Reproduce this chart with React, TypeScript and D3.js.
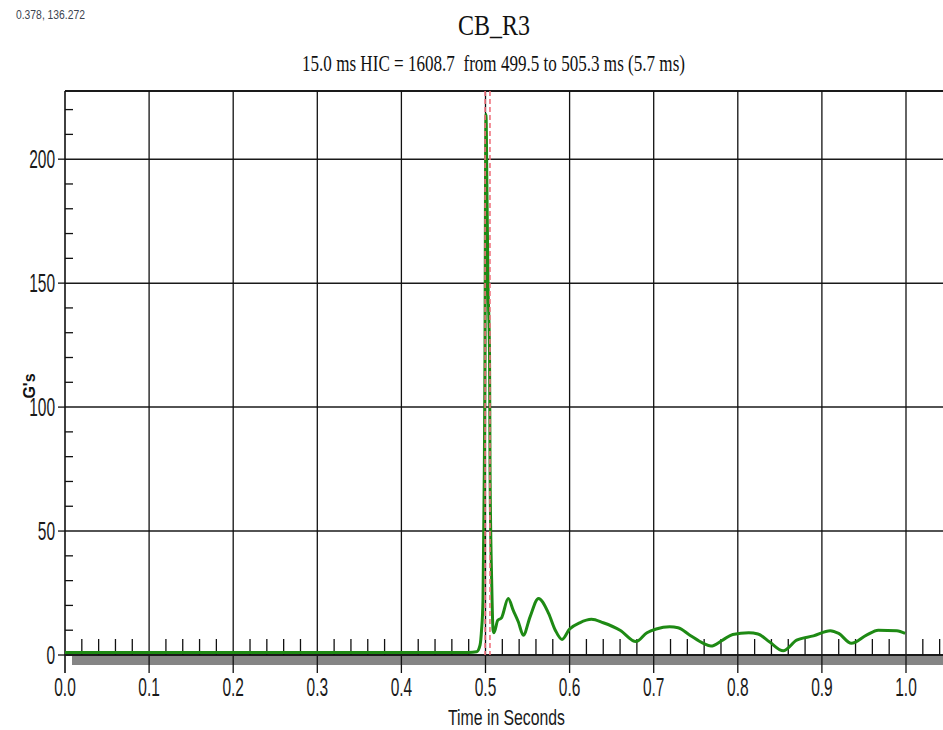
import React, { useEffect, useRef } from 'react'
import * as d3 from 'd3'

// head acceleration trace (seconds, G's)
const timeSeconds = [
  0, 0.1, 0.2, 0.3, 0.4, 0.48, 0.4895, 0.4935, 0.4953, 0.497, 0.4976, 0.4986,
  0.4994, 0.5, 0.5006, 0.5018, 0.503, 0.5048, 0.5054, 0.5074, 0.509, 0.5101,
  0.5145, 0.519, 0.527, 0.533, 0.539, 0.545, 0.553, 0.563, 0.575, 0.583, 0.591,
  0.6, 0.612, 0.626, 0.64, 0.66, 0.679, 0.692, 0.703, 0.719, 0.729, 0.743,
  0.759, 0.768, 0.782, 0.794, 0.813, 0.824, 0.838, 0.854, 0.87, 0.89, 0.91,
  0.92, 0.935, 0.953, 0.967, 0.989, 0.999,
]
const accelG = [
  1, 1, 1, 1, 1, 1, 1.3, 4, 10, 22, 41, 75,
  121, 190, 218, 185, 150, 121, 75, 29, 10, 9,
  14, 15, 22.8, 18, 13.4, 8, 15.4, 22.8, 16.8, 10, 6.3,
  10.5, 13, 14.4, 13, 10, 5.4, 9, 10.5, 11.4, 11, 8,
  4.7, 3.6, 6, 8.3, 9, 8.5, 5.2, 1.7, 6, 7.7, 9.8,
  8.7, 4.7, 8, 10, 9.8, 8.7,
]

const xMajorTicks = [0, 0.1, 0.2, 0.3, 0.4, 0.5, 0.6, 0.7, 0.8, 0.9, 1.0]
const xTickLabels = ['0.0', '0.1', '0.2', '0.3', '0.4', '0.5', '0.6', '0.7', '0.8', '0.9', '1.0']
const yMajorTicks = [0, 50, 100, 150, 200]
const yTickLabels = ['0', '50', '100', '150', '200']
const hicWindow = [0.4995, 0.5053]

const chartTitle = 'CB_R3'
const chartSubtitle = '15.0 ms HIC = 1608.7  from 499.5 to 505.3 ms (5.7 ms)'
const cursorReadout = '0.378, 136.272'
const xAxisTitle = 'Time in Seconds'
const yAxisTitle = "G's"

const W = 943
const H = 730
const sans = 'Liberation Sans, Arial, sans-serif'
const serif = 'Liberation Serif, Times New Roman, serif'

export default function App() {
  const ref = useRef<SVGSVGElement>(null)

  useEffect(() => {
    const svg = d3.select(ref.current)
    svg.selectAll('*').remove()

    const left = 65, top = 91, right = W, bottom = 655
    const x = d3.scaleLinear().domain([0, 1]).range([65, 906])
    const y = d3.scaleLinear().domain([0, 227.5]).range([bottom, top])

    // grey shadow under the time axis
    svg.append('rect')
      .attr('x', 72).attr('y', 656)
      .attr('width', right - 72).attr('height', 9)
      .attr('fill', '#858585')

    // horizontal grid
    svg.selectAll('.hgrid')
      .data(yMajorTicks.filter(d => d > 0))
      .enter().append('line')
      .attr('x1', left).attr('x2', right)
      .attr('y1', d => y(d)).attr('y2', d => y(d))
      .attr('stroke', '#1a1a1a').attr('stroke-width', 1.5)

    svg.append('line')
      .attr('x1', left).attr('x2', right).attr('y1', top).attr('y2', top)
      .attr('stroke', '#1a1a1a').attr('stroke-width', 2)

    // vertical grid, running down past the axis as major ticks
    svg.selectAll('.vgrid')
      .data(xMajorTicks)
      .enter().append('line')
      .attr('x1', d => x(d)).attr('x2', d => x(d))
      .attr('y1', top).attr('y2', 673)
      .attr('stroke', '#111').attr('stroke-width', d => d === 0 ? 1.6 : 1.3)

    // y ticks
    svg.selectAll('.ymaj')
      .data(yMajorTicks)
      .enter().append('line')
      .attr('x1', 58).attr('x2', left)
      .attr('y1', d => y(d)).attr('y2', d => y(d))
      .attr('stroke', '#111').attr('stroke-width', 1.3)

    const yMinor = d3.range(10, 230, 10).filter(d => d % 50 !== 0)
    svg.selectAll('.ymin')
      .data(yMinor)
      .enter().append('line')
      .attr('x1', left).attr('x2', 73)
      .attr('y1', d => y(d)).attr('y2', d => y(d))
      .attr('stroke', '#111').attr('stroke-width', 1.3)

    // time axis
    svg.append('line')
      .attr('x1', left).attr('x2', right).attr('y1', bottom).attr('y2', bottom)
      .attr('stroke', '#1a1a1a').attr('stroke-width', 2)

    const xMinor = d3.range(1, 53).map(i => i * 0.02).filter((d, i) => (i + 1) % 5 !== 0)
    svg.selectAll('.xmin')
      .data(xMinor)
      .enter().append('line')
      .attr('x1', d => x(d)).attr('x2', d => x(d))
      .attr('y1', 639).attr('y2', bottom)
      .attr('stroke', '#111').attr('stroke-width', 1.3)

    // the trace
    const pts: [number, number][] = timeSeconds.map((t, i) => [t, accelG[i]])
    const line = d3.line<[number, number]>()
      .x(d => x(d[0]))
      .y(d => y(d[1]))
      .curve(d3.curveMonotoneX)

    svg.append('path')
      .attr('d', line(pts))
      .attr('fill', 'none')
      .attr('stroke', '#1e8a14')
      .attr('stroke-width', 3)
      .attr('stroke-linejoin', 'round')

    // HIC window cursors
    svg.selectAll('.hic')
      .data(hicWindow)
      .enter().append('line')
      .attr('x1', d => x(d)).attr('x2', d => x(d))
      .attr('y1', top).attr('y2', bottom)
      .attr('stroke', '#f0707c').attr('stroke-width', 1.6)
      .attr('stroke-dasharray', '5,3')

    // tick labels
    svg.selectAll('.xlab')
      .data(xMajorTicks)
      .enter().append('text')
      .attr('transform', d => `translate(${x(d)},696) scale(0.62,1)`)
      .attr('text-anchor', 'middle')
      .attr('font-family', sans).attr('font-size', 25)
      .attr('fill', '#1a1a1a')
      .text((d, i) => xTickLabels[i])

    svg.selectAll('.ylab')
      .data(yMajorTicks)
      .enter().append('text')
      .attr('transform', d => `translate(55,${y(d) + 9}) scale(0.62,1)`)
      .attr('text-anchor', 'end')
      .attr('font-family', sans).attr('font-size', 25)
      .attr('fill', '#1a1a1a')
      .text((d, i) => yTickLabels[i])

    svg.append('text')
      .attr('transform', 'translate(35,386) rotate(-90)')
      .attr('text-anchor', 'middle')
      .attr('font-family', sans).attr('font-size', 16).attr('font-weight', 'bold')
      .attr('fill', '#111')
      .text(yAxisTitle)

    svg.append('text')
      .attr('x', 448).attr('y', 725)
      .attr('font-family', sans).attr('font-size', 22)
      .attr('textLength', 117).attr('lengthAdjust', 'spacingAndGlyphs')
      .attr('fill', '#1a1a1a')
      .text(xAxisTitle)

    // titles
    svg.append('text')
      .attr('x', 458).attr('y', 35)
      .attr('font-family', serif).attr('font-size', 30)
      .attr('textLength', 72).attr('lengthAdjust', 'spacingAndGlyphs')
      .attr('fill', '#111')
      .text(chartTitle)

    svg.append('text')
      .attr('x', 302).attr('y', 71)
      .attr('font-family', serif).attr('font-size', 23)
      .attr('textLength', 383).attr('lengthAdjust', 'spacingAndGlyphs')
      .style('white-space', 'pre')
      .attr('fill', '#111')
      .text(chartSubtitle)

    svg.append('text')
      .attr('x', 16).attr('y', 19)
      .attr('font-family', sans).attr('font-size', 13)
      .attr('textLength', 69).attr('lengthAdjust', 'spacingAndGlyphs')
      .attr('fill', '#3c4450')
      .text(cursorReadout)
  }, [])

  return (
    <svg
      ref={ref}
      width={W}
      height={H}
      style={{ position: 'absolute', left: 0, top: 0, display: 'block', background: '#fff' }}
    />
  )
}
